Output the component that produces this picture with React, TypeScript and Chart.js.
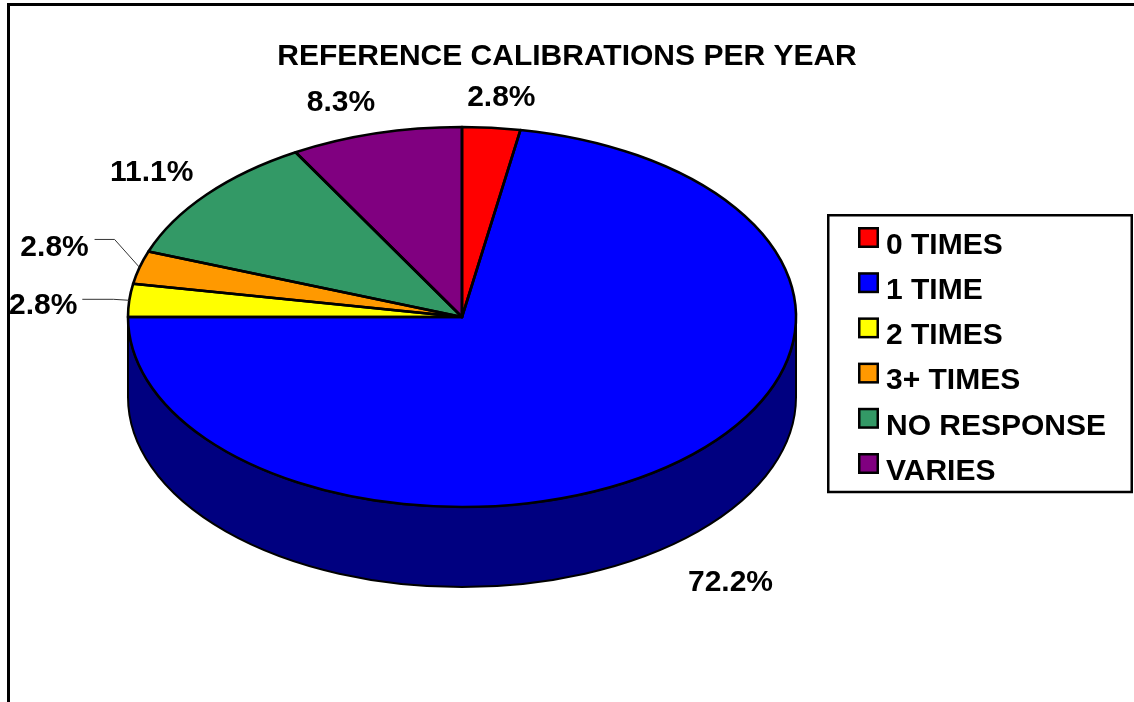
import React, { useEffect, useRef } from "react";
import { Chart, registerables } from "chart.js";

Chart.register(...registerables);

const chartTitle = "REFERENCE CALIBRATIONS PER YEAR";
const categories = ["0 TIMES", "1 TIME", "2 TIMES", "3+ TIMES", "NO RESPONSE", "VARIES"];
const percentages = [2.8, 72.2, 2.8, 2.8, 11.1, 8.3];
const sliceColors = ["#ff0000", "#0000ff", "#ffff00", "#ff9900", "#339966", "#800080"];
const wallColors = ["#800000", "#000080", "#808000", "#804c00", "#1a4d33", "#400040"];

// Pie geometry: a tilted disc drawn by squashing the library's circular arcs.
const RADIUS = 334;
const DISC_X = 462;
const DISC_Y = 317;
const TILT = 190 / 334;
const DEPTH = 80;
const FONT = "'Liberation Sans', Arial, sans-serif";

// Value label placement relative to each slice's rim midpoint.
const labelOffsets = [
  [10, -30],
  [54, 120],
  [-86, 5],
  [-85, -20],
  [-55, -22],
  [-35, -31],
];
// Leader lines (start and elbow, relative to the rim midpoint) for the narrow slices.
const leaders: Record<number, number[][]> = {
  2: [[-47, -1], [-16, -1]],
  3: [[-45, -28], [-25, -28]],
};

const legendFrame = { left: 828.25, top: 215.25, right: 1131.75, bottom: 492 };
const legendRows = { firstY: 244, step: 45.2, boxX: 859.25, boxSize: 18.5, textX: 886, textDrop: 1.5 };

const squash = (ctx: CanvasRenderingContext2D, arcY: number) => {
  ctx.translate(0, DISC_Y);
  ctx.scale(1, TILT);
  ctx.translate(0, -arcY);
};

const rimPoint = (arc: any) => {
  const mid = (arc.startAngle + arc.endAngle) / 2;
  return {
    x: arc.x + Math.cos(mid) * arc.outerRadius,
    y: DISC_Y + Math.sin(mid) * arc.outerRadius * TILT,
  };
};

const tiltedPie = {
  id: "tiltedPie",
  // The title stays centred on the page while the disc sits left of the legend.
  afterLayout(chart: any) {
    const area = chart.chartArea;
    area.left = 0;
    area.right = DISC_X * 2;
    area.width = DISC_X * 2;
  },
  beforeDraw(chart: any) {
    const { ctx, width, height } = chart;
    ctx.save();
    ctx.fillStyle = "#ffffff";
    ctx.fillRect(0, 0, width, height);
    // Outer frame: only the top and left edges show on the page.
    ctx.strokeStyle = "#000000";
    ctx.lineWidth = 3;
    ctx.beginPath();
    ctx.moveTo(8.5, height);
    ctx.lineTo(8.5, 4.5);
    ctx.lineTo(width, 4.5);
    ctx.stroke();
    ctx.restore();
  },
  beforeDatasetsDraw(chart: any) {
    const { ctx } = chart;
    const arcs = chart.getDatasetMeta(0).data;
    // Side wall: the part of every slice that lies on the front half of the rim.
    arcs.forEach((arc: any, i: number) => {
      const start = Math.max(arc.startAngle, 0);
      const end = Math.min(arc.endAngle, Math.PI);
      if (end <= start) return;
      const rx = arc.outerRadius;
      const ry = arc.outerRadius * TILT;
      ctx.save();
      ctx.beginPath();
      ctx.ellipse(arc.x, DISC_Y, rx, ry, 0, start, end);
      ctx.ellipse(arc.x, DISC_Y + DEPTH, rx, ry, 0, end, start, true);
      ctx.closePath();
      ctx.fillStyle = wallColors[i];
      ctx.fill();
      ctx.strokeStyle = "#000000";
      ctx.lineWidth = 2;
      ctx.stroke();
      ctx.restore();
    });
    ctx.save();
    squash(ctx, arcs[0].y);
  },
  afterDatasetsDraw(chart: any) {
    const { ctx } = chart;
    ctx.restore();
    const arcs = chart.getDatasetMeta(0).data;

    // Slice outlines keep an even weight because they are stroked after the squash is undone.
    arcs.forEach((arc: any) => {
      ctx.save();
      ctx.save();
      squash(ctx, arc.y);
      ctx.beginPath();
      ctx.moveTo(arc.x, arc.y);
      ctx.arc(arc.x, arc.y, arc.outerRadius, arc.startAngle, arc.endAngle);
      ctx.closePath();
      ctx.restore();
      ctx.strokeStyle = "#000000";
      ctx.lineWidth = 2.6;
      ctx.lineJoin = "round";
      ctx.stroke();
      ctx.restore();
    });

    // Value labels and leader lines.
    ctx.save();
    ctx.textAlign = "center";
    ctx.textBaseline = "middle";
    ctx.font = `bold 30px ${FONT}`;
    ctx.fillStyle = "#000000";
    arcs.forEach((arc: any, i: number) => {
      const rim = rimPoint(arc);
      const [dx, dy] = labelOffsets[i];
      ctx.fillText(`${percentages[i].toFixed(1)}%`, rim.x + dx, rim.y + dy);
      const leader = leaders[i];
      if (leader) {
        ctx.save();
        ctx.strokeStyle = "#333333";
        ctx.lineWidth = 1;
        ctx.beginPath();
        ctx.moveTo(rim.x + leader[0][0], rim.y + leader[0][1]);
        ctx.lineTo(rim.x + leader[1][0], rim.y + leader[1][1]);
        ctx.lineTo(rim.x, rim.y);
        ctx.stroke();
        ctx.restore();
      }
    });
    ctx.restore();

    // Boxed legend at the right.
    ctx.save();
    ctx.strokeStyle = "#000000";
    ctx.lineWidth = 2.5;
    ctx.strokeRect(
      legendFrame.left,
      legendFrame.top,
      legendFrame.right - legendFrame.left,
      legendFrame.bottom - legendFrame.top
    );
    ctx.textAlign = "left";
    ctx.textBaseline = "middle";
    ctx.font = `bold 30px ${FONT}`;
    chart.data.labels.forEach((label: string, i: number) => {
      const y = legendRows.firstY + i * legendRows.step;
      ctx.fillStyle = sliceColors[i];
      ctx.fillRect(legendRows.boxX, y - 15.75, legendRows.boxSize, legendRows.boxSize);
      ctx.strokeStyle = "#000000";
      ctx.lineWidth = 2.5;
      ctx.strokeRect(legendRows.boxX, y - 15.75, legendRows.boxSize, legendRows.boxSize);
      ctx.fillStyle = "#000000";
      ctx.fillText(label, legendRows.textX, y + legendRows.textDrop);
    });
    ctx.restore();
  },
};

export default function App() {
  const canvasRef = useRef<HTMLCanvasElement>(null);

  useEffect(() => {
    const chart = new Chart(canvasRef.current!, {
      type: "pie",
      data: {
        labels: categories,
        datasets: [
          {
            data: percentages,
            backgroundColor: sliceColors,
            borderWidth: 0,
            clip: false,
            radius: RADIUS,
          } as any,
        ],
      },
      options: {
        animation: false,
        responsive: false,
        plugins: {
          legend: { display: false },
          tooltip: { enabled: false },
          title: {
            display: true,
            text: chartTitle,
            color: "#000000",
            font: { family: FONT, size: 30, weight: "bold", lineHeight: 1.2 },
            padding: { top: 39, bottom: 10 },
          },
        },
      },
      plugins: [tiltedPie],
    });
    return () => chart.destroy();
  }, []);

  return (
    <canvas
      ref={canvasRef}
      width={1134}
      height={702}
      style={{ position: "absolute", left: 0, top: 0, display: "block" }}
    />
  );
}
